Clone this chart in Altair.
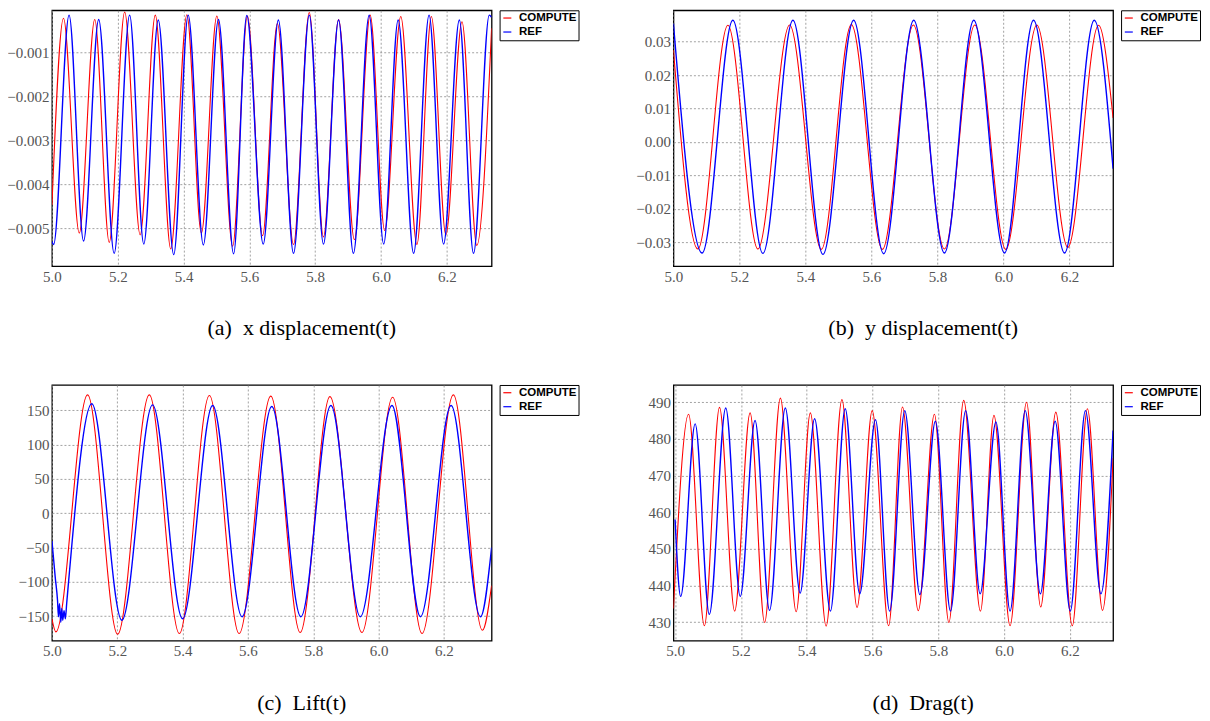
import altair as alt
import pandas as pd

SERIES = ["COMPUTE", "REF"]
COLORS = ["#ff0000", "#0000ff"]
X_TICKS = [5.0, 5.2, 5.4, 5.6, 5.8, 6.0, 6.2]

# ---------- (a) x displacement ----------
A_COMPUTE_T = [5.000, 5.035, 5.083, 5.130, 5.174, 5.221, 5.268, 5.314, 5.361, 5.410, 5.454,
               5.501, 5.549, 5.594, 5.640, 5.685, 5.734, 5.782, 5.825, 5.871, 5.919, 5.967,
               6.011, 6.060, 6.109, 6.153, 6.197, 6.246, 6.291, 6.336]
A_COMPUTE_V = [-0.00447, -0.00022, -0.00511, -0.00025, -0.00532, -0.00008, -0.00515, -0.00015,
               -0.00547, -0.00014, -0.00511, -0.00017, -0.00541, -0.00017, -0.00517, -0.00034,
               -0.00537, -0.00009, -0.00520, -0.00025, -0.00526, -0.00015, -0.00505, -0.00018,
               -0.00537, -0.00018, -0.00515, -0.00030, -0.00539, -0.00045]
A_REF_T = [5.000, 5.005, 5.052, 5.096, 5.142, 5.189, 5.236, 5.279, 5.323, 5.370, 5.414, 5.460,
           5.506, 5.552, 5.592, 5.642, 5.688, 5.734, 5.782, 5.825, 5.871, 5.916, 5.964, 6.008,
           6.052, 6.099, 6.146, 6.190, 6.238, 6.281, 6.329, 6.336]
A_REF_V = [-0.00530, -0.00537, -0.00015, -0.00529, -0.00025, -0.00557, -0.00015, -0.00536,
           -0.00026, -0.00560, -0.00015, -0.00538, -0.00025, -0.00558, -0.00016, -0.00536,
           -0.00026, -0.00557, -0.00015, -0.00536, -0.00026, -0.00557, -0.00015, -0.00536,
           -0.00026, -0.00557, -0.00015, -0.00536, -0.00026, -0.00557, -0.00015, -0.00020]
A_Y_TICKS = [-0.005, -0.004, -0.003, -0.002, -0.001]

# ---------- (b) y displacement ----------
B_COMPUTE_T = [5.000, 5.074, 5.165, 5.256, 5.352, 5.448, 5.539, 5.633, 5.727, 5.821, 5.913,
               6.007, 6.101, 6.195, 6.288, 6.332]
B_COMPUTE_V = [0.0275, -0.0321, 0.0349, -0.0321, 0.0350, -0.0322, 0.0351, -0.0322, 0.0350,
               -0.0321, 0.0350, -0.0322, 0.0350, -0.0316, 0.0349, 0.0072]
B_REF_T = [5.000, 5.087, 5.180, 5.271, 5.362, 5.453, 5.546, 5.637, 5.728, 5.821, 5.910,
           6.003, 6.091, 6.185, 6.275, 6.332]
B_REF_V = [0.0354, -0.0333, 0.0364, -0.0334, 0.0364, -0.0337, 0.0364, -0.0335, 0.0364,
           -0.0333, 0.0364, -0.0333, 0.0364, -0.0333, 0.0364, -0.0080]
B_Y_TICKS = [-0.03, -0.02, -0.01, 0.0, 0.01, 0.02, 0.03]

# ---------- (c) Lift ----------
C_COMPUTE_T = [5.000, 5.012, 5.109, 5.201, 5.298, 5.390, 5.482, 5.573, 5.670, 5.760, 5.851,
               5.949, 6.043, 6.133, 6.229, 6.318, 6.346]
C_COMPUTE_V = [-154, -173, 172.6, -176.5, 172.6, -175.5, 171.6, -175.5, 170.7, -174, 170,
               -174, 169, -175.5, 172.6, -170.7, -105.6]
C_REF_T = [5.000, 5.010, 5.017, 5.020, 5.023, 5.027, 5.030, 5.033, 5.037, 5.041, 5.045,
           5.122, 5.214, 5.308, 5.400, 5.492, 5.582, 5.673, 5.762, 5.854, 5.944, 6.041,
           6.128, 6.222, 6.312, 6.346]
C_REF_V = [-40.5, -93.5, -127, -151, -132, -159, -139, -156, -142, -154, -132,
           159.6, -156, 158, -154, 157, -151, 155.7, -151, 157, -151, 157,
           -151, 157, -151, -50]
C_Y_TICKS = [-150, -100, -50, 0, 50, 100, 150]

# ---------- (d) Drag ----------
D_COMPUTE_T = [4.995, 5.041, 5.089, 5.135, 5.181, 5.228, 5.272, 5.320, 5.368, 5.411, 5.459,
               5.507, 5.553, 5.599, 5.649, 5.691, 5.739, 5.788, 5.832, 5.877, 5.928, 5.969,
               6.018, 6.068, 6.111, 6.157, 6.207, 6.253, 6.299, 6.331]
D_COMPUTE_V = [433.7, 486.7, 429.0, 488.6, 433.0, 487.1, 429.9, 491.1, 432.8, 487.1, 428.9,
               490.7, 434.0, 487.7, 429.0, 488.7, 433.1, 486.7, 429.9, 490.5, 433.0, 486.4,
               429.0, 490.0, 434.1, 487.3, 429.0, 488.2, 433.2, 474.7]
D_REF_T = [5.000, 5.017, 5.061, 5.104, 5.154, 5.198, 5.243, 5.287, 5.335, 5.380, 5.424,
           5.472, 5.517, 5.561, 5.609, 5.652, 5.698, 5.744, 5.791, 5.837, 5.883, 5.927,
           5.975, 6.018, 6.064, 6.110, 6.155, 6.201, 6.247, 6.294, 6.331]
D_REF_V = [458.0, 437.0, 484.1, 432.1, 488.4, 437.0, 485.0, 433.2, 488.4, 437.9, 485.5,
           433.0, 488.2, 437.7, 485.2, 433.0, 487.7, 437.5, 484.8, 433.0, 487.7, 437.7,
           484.6, 433.0, 487.7, 437.7, 484.8, 433.0, 487.7, 437.7, 482.3]
D_Y_TICKS = [430, 440, 450, 460, 470, 480, 490]


def make_df(ct, cv, rt, rv):
    return pd.concat([
        pd.DataFrame({"t": ct, "v": cv, "series": "COMPUTE"}),
        pd.DataFrame({"t": rt, "v": rv, "series": "REF"}),
    ], ignore_index=True)


W, H = 440, 256

AXIS_STYLE = dict(
    title=None, labelFlush=False, labelFont="Liberation Serif", labelFontSize=15,
    labelColor="#555555", grid=True, gridColor="#8a8a8a", gridDash=[2, 2],
    gridWidth=0.8, domain=False, ticks=False, labelPadding=3,
)


def panel(df, xdom, ydom, yticks, yfmt, caption):
    return alt.Chart(df).mark_line(clip=True, interpolate="monotone").encode(
        x=alt.X("t:Q", scale=alt.Scale(domain=xdom, nice=False, zero=False),
                axis=alt.Axis(values=X_TICKS, format=".1f", **AXIS_STYLE)),
        y=alt.Y("v:Q", scale=alt.Scale(domain=ydom, nice=False, zero=False),
                axis=alt.Axis(values=yticks, format=yfmt, **AXIS_STYLE)),
        color=alt.Color("series:N",
                        scale=alt.Scale(domain=SERIES, range=COLORS),
                        legend=alt.Legend(title=None, orient="right", offset=8,
                                          symbolType="stroke", symbolSize=64,
                                          symbolStrokeWidth=1.2, labelFont="Liberation Sans",
                                          labelFontWeight="bold", labelFontSize=11.5,
                                          labelColor="black", labelOffset=6,
                                          strokeColor="black", padding=2, rowPadding=1,
                                          cornerRadius=0, fillColor="white")),
        strokeWidth=alt.condition(alt.datum.series == "REF", alt.value(1.4), alt.value(1.1)),
    ).properties(
        width=W, height=H,
        title=alt.TitleParams(text=caption, orient="bottom", anchor="middle", offset=34, dx=30,
                              font="Liberation Serif", fontSize=22, fontWeight="normal",
                              color="black"),
    )


pa = panel(make_df(A_COMPUTE_T, A_COMPUTE_V, A_REF_T, A_REF_V), [5.0, 6.336],
           [-0.00586, -0.00004], A_Y_TICKS, ".3f", "(a)\u2002x displacement(t)")
pb = panel(make_df(B_COMPUTE_T, B_COMPUTE_V, B_REF_T, B_REF_V), [5.0, 6.332],
           [-0.0372, 0.0394], B_Y_TICKS, ".2f", "(b)\u2002y displacement(t)")
pc = panel(make_df(C_COMPUTE_T, C_COMPUTE_V, C_REF_T, C_REF_V), [5.0, 6.346],
           [-186, 187], C_Y_TICKS, "d", "(c)\u2002Lift(t)")
pd_ = panel(make_df(D_COMPUTE_T, D_COMPUTE_V, D_REF_T, D_REF_V), [4.995, 6.331],
            [424.9, 494.7], D_Y_TICKS, "d", "(d)\u2002Drag(t)")

chart = alt.concat(
    pa, pb, pc, pd_, columns=2, spacing={"row": 119, "column": 182}, bounds="flush"
).resolve_scale(
    color="independent"
).properties(
    padding={"left": -2, "top": 0, "right": 0, "bottom": 0},
    background="white",
).configure_view(
    stroke="black", strokeWidth=1.3
)

chart.save("out.html", embed_options={"renderer": "svg", "actions": False})
